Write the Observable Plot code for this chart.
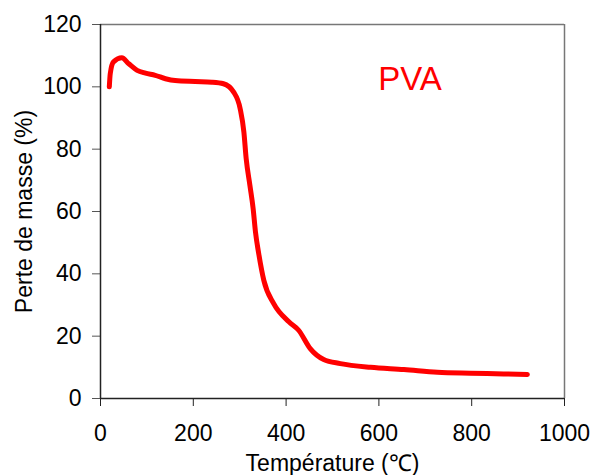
<!DOCTYPE html>
<html>
<head>
<meta charset="utf-8">
<script src="https://cdn.jsdelivr.net/npm/d3@7"></script>
<script src="https://cdn.jsdelivr.net/npm/@observablehq/plot@0.6"></script>
<style>
  html, body { margin: 0; padding: 0; background: #fff; }
  svg { font-family: "Liberation Sans", Arial, sans-serif; }
</style>
</head>
<body>
<div id="chart"></div>
<script>
// Temperature (°C)
const temperature = [19, 21, 28, 46, 61, 79, 97, 118, 140, 161, 204, 240, 265, 287, 301, 309, 314, 322, 329, 334, 341, 352, 373, 406, 427, 452, 481, 517, 582, 654, 726, 797, 869, 920];
// Perte de masse (%)
const masse = [100, 104.2, 108, 109.3, 107.4, 105.3, 104.4, 103.7, 102.6, 102, 101.7, 101.5, 101, 98.3, 93, 85.5, 76.9, 68.4, 60.9, 53.4, 46.5, 37.9, 30.5, 24.6, 21.9, 16, 12.5, 11.2, 10, 9.3, 8.4, 8.1, 7.9, 7.7];
const xTicks = [0, 200, 400, 600, 800, 1000];
const yTicks = [0, 20, 40, 60, 80, 100, 120];
const seriesLabel = "PVA";
const xLabel = "Température (℃)";
const yLabel = "Perte de masse (%)";

const data = temperature.map((t, i) => ({t, m: masse[i]}));

const chart = Plot.plot({
  width: 595,
  height: 475,
  marginLeft: 100,
  marginRight: 31,
  marginTop: 24,
  marginBottom: 77,
  style: {fontFamily: '"Liberation Sans", Arial, sans-serif', background: "#fff"},
  x: {domain: [0, 1000]},
  y: {domain: [0, 120]},
  marks: [
    Plot.ruleY([120], {stroke: "#777", strokeWidth: 1.5}),
    Plot.ruleX([1000], {stroke: "#777", strokeWidth: 1.5}),
    Plot.axisX({ticks: xTicks, tickFormat: d => String(d), tickSize: 8, tickPadding: 18, fontSize: 23, label: null, stroke: "#222", color: "#000"}),
    Plot.axisY({ticks: yTicks, tickFormat: d => String(d), tickSize: 8, tickPadding: 11, fontSize: 23, label: null, stroke: "#555", color: "#000"}),
    Plot.ruleX([0], {stroke: "#222", strokeWidth: 1.5}),
    Plot.ruleY([0], {stroke: "#222", strokeWidth: 1.5}),
    Plot.line(data, {x: "t", y: "m", stroke: "#ff0000", strokeWidth: 5, curve: "monotone-x"}),
    Plot.text([seriesLabel], {frameAnchor: "top-left", textAnchor: "middle", dx: 309.5, dy: 65, lineAnchor: "bottom", text: d => d, fill: "#ff0000", fontSize: 33}),
    Plot.text([xLabel], {frameAnchor: "bottom", textAnchor: "middle", dy: 72, lineAnchor: "bottom", text: d => d, fill: "#000", fontSize: 23}),
    Plot.text([yLabel], {frameAnchor: "left", textAnchor: "middle", lineAnchor: "middle", dx: -76, rotate: -90, text: d => d, fill: "#000", fontSize: 23})
  ]
});
document.getElementById("chart").appendChild(chart);
</script>
</body>
</html>
